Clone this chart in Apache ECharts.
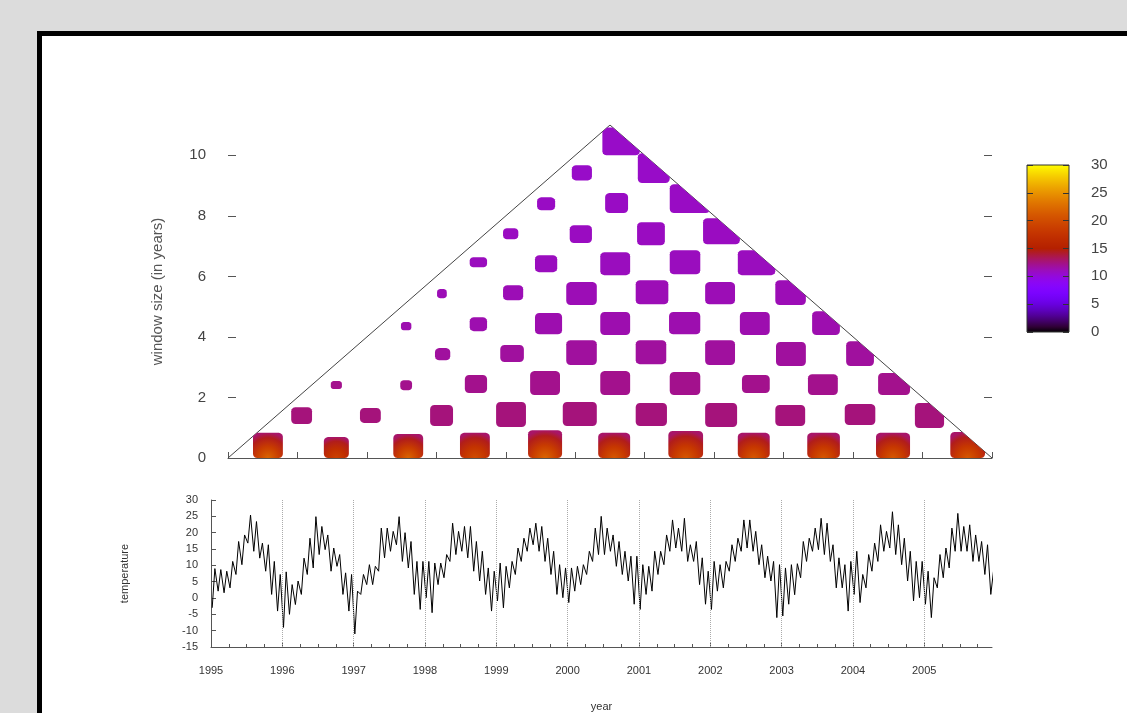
<!DOCTYPE html>
<html><head><meta charset="utf-8">
<script src="https://cdn.jsdelivr.net/npm/echarts@6/dist/echarts.min.js"></script>
<style>html,body{margin:0;padding:0;background:#dcdcdc}#c{width:1127px;height:713px}</style>
</head><body><div id="c"></div><script>
// ---------- DATA ----------
// Upper panel: triangle outline (centre year, window size)
const triX = [0, 5.5, 11];
const triY = [0, 11, 0];
const windowTicks = [0, 2, 4, 6, 8, 10];
const colorTicks = [0, 5, 10, 15, 20, 25, 30];

// blobs: x extent (years since start), y extent (window size), value, core value
const blobX0 = [0.36,1.38,2.38,3.34,4.32,5.33,6.34,7.34,8.34,9.33,10.40,
  0.91,1.90,2.91,3.86,4.82,5.87,6.87,7.88,8.88,9.89,
  1.48,2.48,3.41,4.35,5.36,6.36,7.40,8.35,9.36,
  2.98,3.92,4.87,5.87,6.87,7.89,8.90,
  2.49,3.48,4.42,5.36,6.35,7.37,8.41,
  3.01,3.96,4.87,5.87,6.87,7.88,
  3.48,4.42,5.36,6.36,7.34,
  3.96,4.92,5.89,6.84,
  4.45,5.43,6.36,
  4.95,5.90,
  5.39];
const blobX1 = [0.79,1.74,2.81,3.77,4.81,5.79,6.84,7.80,8.81,9.82,10.90,
  1.21,2.20,3.24,4.29,5.31,6.32,7.33,8.31,9.32,10.31,
  1.64,2.65,3.73,4.78,5.79,6.80,7.80,8.78,9.82,
  3.20,4.26,5.31,6.31,7.30,8.32,9.30,
  2.64,3.73,4.81,5.79,6.80,7.80,8.81,
  3.15,4.25,5.31,6.34,7.30,8.32,
  3.73,4.74,5.79,6.80,7.88,
  4.18,5.24,6.29,7.37,
  4.71,5.76,6.94,
  5.24,6.36,
  5.93];
const blobY0 = [0,0,0,0,0,0,0,0,0,0,0,
  1.12,1.16,1.06,1.02,1.06,1.06,1.02,1.06,1.09,0.99,
  2.28,2.24,2.15,2.08,2.08,2.08,2.15,2.08,2.08,
  3.23,3.17,3.07,3.10,3.07,3.04,3.04,
  4.22,4.19,4.09,4.06,4.09,4.06,4.06,
  5.28,5.21,5.05,5.08,5.08,5.05,
  6.30,6.14,6.04,6.07,6.04,
  7.23,7.10,7.03,7.06,
  8.18,8.09,8.09,
  9.17,9.08,
  10.0];
const blobY1 = [0.83,0.69,0.79,0.83,0.92,0.83,0.89,0.83,0.83,0.83,0.86,
  1.68,1.65,1.75,1.85,1.85,1.82,1.82,1.75,1.78,1.82,
  2.54,2.57,2.74,2.87,2.87,2.84,2.74,2.77,2.81,
  3.63,3.73,3.89,3.89,3.89,3.83,3.86,
  4.49,4.65,4.79,4.82,4.82,4.82,4.85,
  5.58,5.71,5.81,5.87,5.81,5.87,
  6.63,6.70,6.80,6.86,6.86,
  7.59,7.69,7.79,7.92,
  8.61,8.75,9.04,
  9.67,10.07,
  10.92];
const blobVal = [13,13,13,13,13,13,13,13,13,13,13,
  12.6,12.6,12.6,12.6,12.6,12.6,12.6,12.6,12.6,12.6,
  12.2,12.2,12.2,12.2,12.2,12.2,12.2,12.2,12.2,
  11.8,11.8,11.8,11.8,11.8,11.8,11.8,
  11.4,11.4,11.4,11.4,11.4,11.4,11.4,
  11.2,11.2,11.2,11.2,11.2,11.2,
  11,11,11,11,11,
  10.9,10.9,10.9,10.9,
  10.8,10.8,10.8,
  10.7,10.7,
  10.7];
const blobCore = [22,19,22,20,22,21,21,21,21,21,21,
  12.6,12.6,12.6,12.6,12.6,12.6,12.6,12.6,12.6,12.6,
  12.2,12.2,12.2,12.2,12.2,12.2,12.2,12.2,12.2,
  11.8,11.8,11.8,11.8,11.8,11.8,11.8,
  11.4,11.4,11.4,11.4,11.4,11.4,11.4,
  11.2,11.2,11.2,11.2,11.2,11.2,
  11,11,11,11,11,
  10.9,10.9,10.9,10.9,
  10.8,10.8,10.8,
  10.7,10.7,
  10.7];

// Lower panel: temperature, monthly high / low (1995..2005)
const startYear = 1995;
const yearTicks = [1995,1996,1997,1998,1999,2000,2001,2002,2003,2004,2005];
const gridYears = [1996,1997,1998,1999,2000,2001,2002,2003,2004,2005];
const monthlyHigh = [
  9, 8.7, 8.2, 11.2, 17.3, 19.3, 25.4, 23.4, 16.8, 16.3, 11.2, 7.2,
  8, 4.1, 5.2, 12.2, 18.3, 24.9, 21.9, 19.3, 15.3, 13.3, 7.7, 7.2,
  2.1, 7.2, 10.2, 9.7, 21.4, 21.4, 20.4, 24.9, 20, 17.3, 11.2, 11.2,
  11.2, 10.7, 10.7, 13.3, 22.9, 20.4, 21.9, 21.9, 17.3, 14.3, 9.2, 8.2,
  10.7, 9.7, 11.2, 15.3, 18.3, 21.4, 22.9, 21.9, 18.3, 14.3, 10.2, 9.2,
  9.2, 9.7, 10.2, 14.3, 21.4, 25, 21.4, 19.3, 17.3, 14.3, 12.8, 12.8,
  10.2, 9.7, 14.3, 14.3, 19.3, 23.9, 21.4, 24.4, 16.3, 17.3, 12.3, 8.2,
  11.2, 10.2, 11.2, 16.3, 18.3, 23.9, 23.9, 20.4, 16.3, 12.8, 11.2, 10.2,
  9.2, 10.2, 10.5, 17.3, 18.3, 21.4, 24.4, 22.9, 16.3, 12.3, 10.2, 11.2,
  14.3, 7.2, 13.3, 16.8, 22.4, 20.4, 26.4, 22.4, 18.3, 14.3, 11.2, 11.2,
  8.2, 6.2, 13.3, 15.3, 21.4, 25.9, 21.9, 22.4, 19.3, 17.3, 16.3, 8.2];
const monthlyLow = [
  -3, 2.1, 1.6, 3.1, 7.2, 10.2, 16.8, 14.3, 12.2, 8.2, 1.1, -4,
  -9, -5, -2, 1.1, 7.2, 9.2, 13.3, 14.8, 8.2, 9.7, 1.1, -4,
  -11, 1.1, 4.1, 4.1, 8.2, 12.3, 14.3, 16.3, 11.2, 9.2, 1.1, -3.5,
  0.1, -4.5, 4.1, 6.2, 11.2, 13.3, 14.3, 12.3, 8.2, 5.2, 1.1, -4,
  -0.9, -3, 3.1, 7.2, 11.2, 14.3, 16.3, 14.3, 11.2, 7.2, 1.1, 0.1,
  -1.4, 2.1, 4.1, 7.2, 11.2, 13.3, 13.3, 14.3, 9.7, 7.2, 5.2, -1.9,
  -3.5, 1.1, 2.1, 7.2, 10.2, 14.3, 15.3, 14.3, 11.2, 11.2, 4.1, -1.9,
  -3.5, 2.1, 3.1, 8.2, 11.2, 14.3, 15.3, 14.3, 10.2, 6.2, 5.2, -6,
  -5.5, -1.9, 1, 6.2, 11.2, 14.3, 14.8, 13.3, 11.2, 3.1, 3.1, -4,
  1.1, -1.4, 3.1, 8.2, 11.2, 14.3, 15.3, 13.3, 10.2, 5.2, -0.9, 0.1,
  -1.9, -6, 3.1, 6.2, 9.2, 14.3, 14.3, 14.3, 11.2, 11.2, 7.2, 1.1];

// ---------- HELPERS ----------
function pal(v) { // gnuplot default palette (rgbformulae 7,5,15) over 0..30
  const x = Math.max(0, Math.min(1, v / 30));
  const r = Math.sqrt(x), g = x * x * x, b = Math.max(0, Math.sin(2 * Math.PI * x));
  return 'rgb(' + Math.round(r * 255) + ',' + Math.round(g * 255) + ',' + Math.round(b * 255) + ')';
}
function side(a, b, p) { return (b[0] - a[0]) * (p[1] - a[1]) - (b[1] - a[1]) * (p[0] - a[0]); }
function clipPoly(poly, a, b, c) {
  const sc = Math.sign(side(a, b, c)); const out = [];
  for (let i = 0; i < poly.length; i++) {
    const P = poly[i], Q = poly[(i + 1) % poly.length];
    const sp = side(a, b, P) * sc, sq = side(a, b, Q) * sc;
    if (sp >= 0) out.push(P);
    if ((sp >= 0) !== (sq >= 0)) { const t = sp / (sp - sq); out.push([P[0] + t * (Q[0] - P[0]), P[1] + t * (Q[1] - P[1])]); }
  }
  return out;
}

const blobData = blobX0.map((x0, i) => [x0, blobX1[i], blobY0[i], blobY1[i], blobVal[i], blobCore[i]]);
const triData = triX.map((x, i) => [x, triY[i]]);
const tempData = [];
monthlyLow.forEach((lo, i) => {
  const t = startYear + i / 12;
  tempData.push([t + 0.2 / 12, lo]);
  tempData.push([t + 0.65 / 12, monthlyHigh[i]]);
});
const quarterTicks = [];
yearTicks.forEach(y => { [0.25, 0.5, 0.75].forEach(q => quarterTicks.push(y + q)); });

function renderBlob(params, api) {
  const x0 = api.value(0), x1 = api.value(1), y0 = api.value(2), y1 = api.value(3), v = api.value(4), core = api.value(5);
  const pA = api.coord([x0, y1]), pB = api.coord([x1, y0]);
  const L = pA[0], T = pA[1], R = pB[0], B = pB[1];
  const w = R - L, h = B - T, r = Math.min(4, w / 3, h / 3);
  let pts = [];
  [[R - r, T + r, -90], [R - r, B - r, 0], [L + r, B - r, 90], [L + r, T + r, 180]].forEach(cn => {
    for (let k = 0; k <= 3; k++) { const a = (cn[2] + k * 30) * Math.PI / 180; pts.push([cn[0] + r * Math.cos(a), cn[1] + r * Math.sin(a)]); }
  });
  const tri = triX.map((x, i) => api.coord([x, triY[i]]));
  for (let e = 0; e < 3; e++) pts = clipPoly(pts, tri[e], tri[(e + 1) % 3], tri[(e + 2) % 3]);
  if (pts.length < 3) return;
  let fill = pal(v);
  if (core !== v) {
    fill = new echarts.graphic.RadialGradient(0.5, 1, 1, [
      { offset: 0, color: pal(core) },
      { offset: 0.45, color: pal((core + v) / 2 + 1) },
      { offset: 0.8, color: pal(v + 1.5) },
      { offset: 1, color: pal(v) }]);
  }
  return { type: 'polygon', shape: { points: pts }, style: { fill: fill } };
}
function renderBar(params, api) {
  const p0 = api.coord([api.value(0), api.value(2)]), p1 = api.coord([api.value(1), api.value(3)]);
  const stops = [];
  for (let v = 0; v <= 30; v++) stops.push({ offset: v / 30, color: pal(v) });
  return { type: 'rect', shape: { x: p0[0], y: p1[1], width: p1[0] - p0[0], height: p0[1] - p1[1] },
    style: { fill: new echarts.graphic.LinearGradient(0, 1, 0, 0, stops), stroke: '#333', lineWidth: 1 } };
}

const FONT = 'Liberation Sans';
const chart = echarts.init(document.getElementById('c'), null, { renderer: 'canvas' });
chart.setOption({
  backgroundColor: '#dcdcdc',
  animation: false,
  textStyle: { fontFamily: FONT },
  graphic: [{ type: 'rect', z: -10, silent: true, shape: { x: 39.5, y: 33.5, width: 1200, height: 800 },
    style: { fill: '#ffffff', stroke: '#000000', lineWidth: 5 } }],
  grid: [
    { left: 228, top: 125, width: 764, height: 333 },
    { left: 211, top: 500, width: 781, height: 148 },
    { left: 1027, top: 165, width: 42, height: 167 }
  ],
  xAxis: [
    { gridIndex: 0, type: 'value', min: 0, max: 11, interval: 1,
      axisLine: { onZero: false, lineStyle: { color: '#555', width: 1 } },
      axisTick: { inside: true, length: 6, lineStyle: { color: '#555' } },
      axisLabel: { show: false }, splitLine: { show: false } },
    { gridIndex: 1, type: 'value', min: 1995, max: 2005.95, position: 'bottom',
      name: 'year', nameLocation: 'middle', nameGap: 54,
      nameTextStyle: { fontSize: 11, color: '#333', fontFamily: FONT },
      axisLine: { onZero: false, lineStyle: { color: '#555', width: 1 } },
      axisTick: { inside: true, length: 5, customValues: yearTicks, lineStyle: { color: '#555' } },
      axisLabel: { customValues: yearTicks, margin: 18, fontSize: 11, color: '#333', fontFamily: FONT, formatter: v => String(v) },
      splitLine: { show: false } },
    { gridIndex: 1, type: 'value', min: 1995, max: 2005.95, position: 'bottom',
      axisLine: { show: false, onZero: false },
      axisTick: { inside: true, length: 3, customValues: quarterTicks, lineStyle: { color: '#555' } },
      axisLabel: { show: false }, splitLine: { show: false } },
    { gridIndex: 2, type: 'value', min: 0, max: 1, show: false, axisLine: { onZero: false } }
  ],
  yAxis: [
    { gridIndex: 0, type: 'value', min: 0, max: 11, position: 'left',
      name: 'window size (in years)', nameLocation: 'middle', nameGap: 63,
      nameTextStyle: { fontSize: 15, color: '#555', fontFamily: FONT },
      axisLine: { show: false, onZero: false },
      axisTick: { inside: true, length: 8, customValues: windowTicks, lineStyle: { color: '#555' } },
      axisLabel: { customValues: windowTicks, margin: 22, fontSize: 15, color: '#444', fontFamily: FONT },
      splitLine: { show: false } },
    { gridIndex: 0, type: 'value', min: 0, max: 11, position: 'right',
      axisLine: { show: false, onZero: false },
      axisTick: { inside: true, length: 8, customValues: windowTicks, lineStyle: { color: '#555' } },
      axisLabel: { show: false }, splitLine: { show: false } },
    { gridIndex: 1, type: 'value', min: -15, max: 30, interval: 5, position: 'left',
      name: 'temperature', nameLocation: 'middle', nameGap: 81,
      nameTextStyle: { fontSize: 11, color: '#333', fontFamily: FONT },
      axisLine: { show: true, onZero: false, lineStyle: { color: '#555', width: 1 } },
      axisTick: { inside: true, length: 5, lineStyle: { color: '#555' } },
      axisLabel: { margin: 13, fontSize: 11, color: '#333', fontFamily: FONT },
      splitLine: { show: false } },
    { gridIndex: 2, type: 'value', min: 0, max: 30, interval: 5, position: 'right', z: 10,
      axisLine: { show: false, onZero: false },
      axisTick: { inside: true, length: 6, lineStyle: { color: '#333' } },
      axisLabel: { customValues: colorTicks, margin: 22, fontSize: 15, color: '#444', fontFamily: FONT },
      splitLine: { show: false } },
    { gridIndex: 2, type: 'value', min: 0, max: 30, interval: 5, position: 'left', z: 10,
      axisLine: { show: false, onZero: false },
      axisTick: { inside: true, length: 6, lineStyle: { color: '#333' } },
      axisLabel: { show: false }, splitLine: { show: false } }
  ],
  series: [
    { type: 'line', xAxisIndex: 0, yAxisIndex: 0, data: triData, symbol: 'none', z: 1,
      lineStyle: { color: '#444', width: 1 }, silent: true },
    { type: 'custom', xAxisIndex: 0, yAxisIndex: 0, data: blobData, renderItem: renderBlob, z: 2, silent: true },
    { type: 'line', xAxisIndex: 1, yAxisIndex: 2, data: tempData, symbol: 'none', sampling: null,
      lineStyle: { color: '#000', width: 1 }, silent: true, z: 3,
      markLine: { silent: true, symbol: ['none', 'none'], label: { show: false },
        lineStyle: { type: 'dotted', color: '#aaa', width: 1 },
        data: gridYears.map(y => ({ xAxis: y })) } },
    { type: 'custom', xAxisIndex: 3, yAxisIndex: 3, data: [[0, 1, 0, 30]], renderItem: renderBar, z: 1, silent: true }
  ]
});
</script></body></html>
